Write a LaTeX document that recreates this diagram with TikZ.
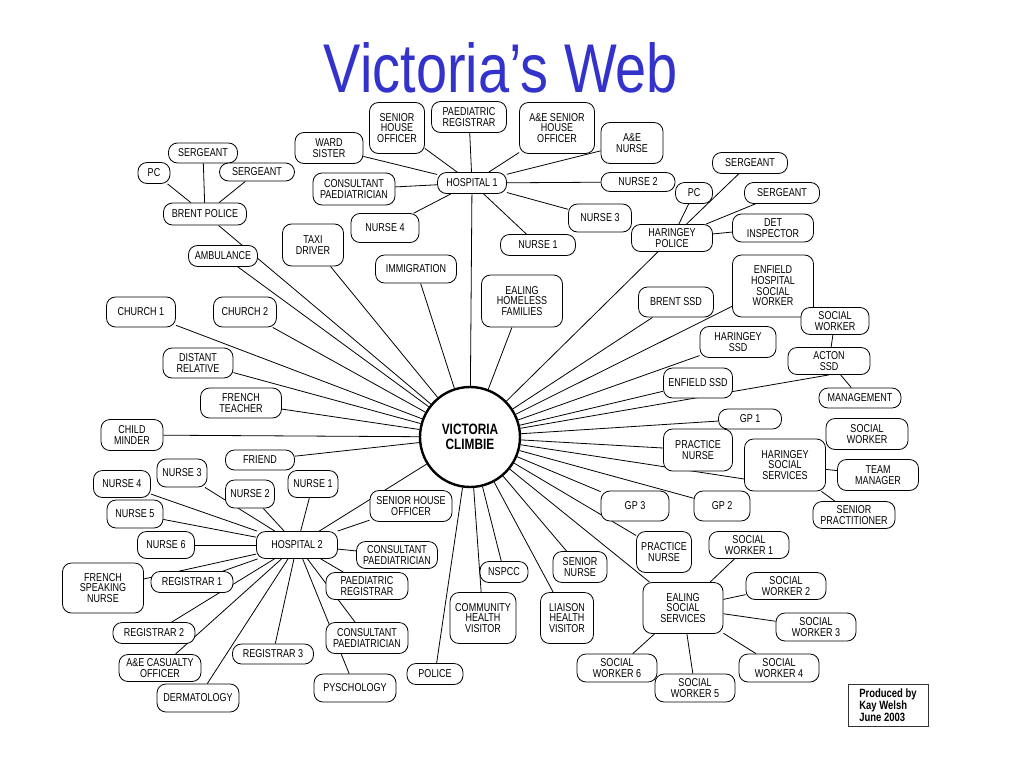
\documentclass[tikz,border=0pt]{standalone}
\usepackage{fontspec}
\setmainfont{Liberation Sans}[FakeStretch=0.79]
\newfontfamily\titlefont{Liberation Sans}[FakeStretch=0.81]
\definecolor{titleblue}{RGB}{51,51,204}
\pgfdeclarelayer{bg}
\pgfsetlayers{bg,main}

\begin{document}
\begin{tikzpicture}[x=1pt,y=-1pt,
    ent/.style={draw,fill=white,rounded corners=9pt,align=center,inner sep=1pt,line width=0.8pt,font=\fontsize{11.4}{10.7}\selectfont},
    sz/.style 2 args={minimum width=#1pt,minimum height=#2pt},
    hub/.style={draw,fill=white,circle,line width=2.4pt,minimum size=100pt,align=center,font=\bfseries\fontsize{15}{15}\selectfont},
    link/.style={line width=0.8pt}]

    \useasboundingbox (0,0) rectangle (1024,768);

    \node[font=\titlefont\fontsize{69}{69}\selectfont,text=titleblue,anchor=base,inner sep=0pt] (title) at (501,92) {Victoria’s Web};

    \node[hub] (vic) at (470,437) {VICTORIA\\CLIMBIE};

    % hospital 1
    \node[ent,sz={69}{21}] (h1) at (472,183) {HOSPITAL 1};
    \node[ent,sz={55}{51}] (sho1) at (397,128) {SENIOR\\HOUSE\\OFFICER};
    \node[ent,sz={75}{31}] (preg1) at (469,117) {PAEDIATRIC\\REGISTRAR};
    \node[ent,sz={75}{51}] (aesho) at (557,128) {A\&E SENIOR\\HOUSE\\OFFICER};
    \node[ent,sz={62}{41}] (aen) at (632,143) {A\&E\\NURSE};
    \node[ent,sz={68}{31}] (ward) at (329,148) {WARD\\SISTER};
    \node[ent,sz={82}{32}] (cons1) at (354,189) {CONSULTANT\\PAEDIATRICIAN};
    \node[ent,sz={74}{19}] (n2a) at (638,182) {NURSE 2};
    \node[ent,sz={63}{28}] (n3a) at (600,218) {NURSE 3};
    \node[ent,sz={68}{29}] (n4a) at (385,228) {NURSE 4};
    \node[ent,sz={75}{21}] (n1a) at (538,245) {NURSE 1};

    % police
    \node[ent,sz={83}{22}] (brent) at (205,214) {BRENT POLICE};
    \node[ent,sz={69}{20}] (serg1) at (203,153) {SERGEANT};
    \node[ent,sz={32}{21}] (pc1) at (154,173) {PC};
    \node[ent,sz={75}{18}] (serg2) at (257,172) {SERGEANT};
    \node[ent,sz={81}{27}] (hpol) at (672,238) {HARINGEY\\POLICE};
    \node[ent,sz={75}{21}] (serg3) at (750,163) {SERGEANT};
    \node[ent,sz={37}{21}] (pc2) at (694,193) {PC};
    \node[ent,sz={75}{21}] (serg4) at (782,193) {SERGEANT};
    \node[ent,sz={81}{28}] (det) at (773,228) {DET\\INSPECTOR};

    \node[ent,sz={61}{42}] (taxi) at (313,245) {TAXI\\DRIVER};
    \node[ent,sz={69}{21}] (amb) at (223,256) {AMBULANCE};
    \node[ent,sz={81}{28}] (immi) at (416,269) {IMMIGRATION};
    \node[ent,sz={81}{52}] (ehf) at (522,301) {EALING\\HOMELESS\\FAMILIES};
    \node[ent,sz={69}{30}] (church1) at (141,312) {CHURCH 1};
    \node[ent,sz={63}{30}] (church2) at (245,312) {CHURCH 2};
    \node[ent,sz={70}{30}] (distant) at (198,363) {DISTANT\\RELATIVE};
    \node[ent,sz={81}{30}] (french) at (241,403) {FRENCH\\TEACHER};
    \node[ent,sz={62}{31}] (child) at (132,435) {CHILD\\MINDER};
    \node[ent,sz={69}{20}] (friend) at (260,460) {FRIEND};

    % social services and gps
    \node[ent,sz={81}{62}] (ehsw) at (773,286) {ENFIELD\\HOSPITAL\\SOCIAL\\WORKER};
    \node[ent,sz={75}{30}] (brentssd) at (676,302) {BRENT SSD};
    \node[ent,sz={68}{27}] (sw0) at (835,321) {SOCIAL\\WORKER};
    \node[ent,sz={76}{31}] (hssd) at (738,342) {HARINGEY\\SSD};
    \node[ent,sz={82}{27}] (acton) at (829,361) {ACTON\\SSD};
    \node[ent,sz={69}{30}] (essd) at (698,383) {ENFIELD SSD};
    \node[ent,sz={82}{20}] (mgmt) at (860,398) {MANAGEMENT};
    \node[ent,sz={63}{20}] (gp1) at (750,419) {GP 1};
    \node[ent,sz={69}{42}] (pn1) at (698,450) {PRACTICE\\NURSE};
    \node[ent,sz={81}{52}] (hss) at (785,465) {HARINGEY\\SOCIAL\\SERVICES};
    \node[ent,sz={82}{31}] (sw7) at (867,434) {SOCIAL\\WORKER};
    \node[ent,sz={81}{31}] (team) at (878,475) {TEAM\\MANAGER};
    \node[ent,sz={82}{27}] (senp) at (854,515) {SENIOR\\PRACTITIONER};
    \node[ent,sz={68}{30}] (gp3) at (635,506) {GP 3};
    \node[ent,sz={56}{30}] (gp2) at (722,506) {GP 2};

    % hospital 2
    \node[ent,sz={81}{27}] (h2) at (297,545) {HOSPITAL 2};
    \node[ent,sz={50}{27}] (n1b) at (313,484) {NURSE 1};
    \node[ent,sz={49}{28}] (n2b) at (250,494) {NURSE 2};
    \node[ent,sz={50}{28}] (n3b) at (182,473) {NURSE 3};
    \node[ent,sz={57}{27}] (n4b) at (122,484) {NURSE 4};
    \node[ent,sz={56}{28}] (n5b) at (135,514) {NURSE 5};
    \node[ent,sz={57}{27}] (n6b) at (166,545) {NURSE 6};
    \node[ent,sz={82}{31}] (sho2) at (411,506) {SENIOR HOUSE\\OFFICER};
    \node[ent,sz={81}{27}] (cons2) at (397,555) {CONSULTANT\\PAEDIATRICIAN};
    \node[ent,sz={81}{50}] (fsn) at (103,588) {FRENCH\\SPEAKING\\NURSE};
    \node[ent,sz={82}{21}] (reg1) at (192,582) {REGISTRAR 1};
    \node[ent,sz={82}{27}] (preg2) at (367,586) {PAEDIATRIC\\REGISTRAR};
    \node[ent,sz={82}{21}] (reg2) at (154,633) {REGISTRAR 2};
    \node[ent,sz={82}{31}] (cons3) at (367,638) {CONSULTANT\\PAEDIATRICIAN};
    \node[ent,sz={81}{20}] (reg3) at (273,654) {REGISTRAR 3};
    \node[ent,sz={82}{27}] (aeco) at (160,668) {A\&E CASUALTY\\OFFICER};
    \node[ent,sz={82}{28}] (psych) at (355,688) {PYSCHOLOGY};
    \node[ent,sz={82}{28}] (derm) at (198,698) {DERMATOLOGY};
    \node[ent,sz={56}{21}] (police) at (435,674) {POLICE};

    % bottom
    \node[ent,sz={66}{51}] (chv) at (483,618) {COMMUNITY\\HEALTH\\VISITOR};
    \node[ent,sz={48}{21}] (nspcc) at (504,572) {NSPCC};
    \node[ent,sz={54}{31}] (snurse) at (580,567) {SENIOR\\NURSE};
    \node[ent,sz={53}{51}] (lhv) at (567,618) {LIAISON\\HEALTH\\VISITOR};
    \node[ent,sz={55}{41}] (pn2) at (664,552) {PRACTICE\\NURSE};
    \node[ent,sz={80}{51}] (ess) at (683,608) {EALING\\SOCIAL\\SERVICES};
    \node[ent,sz={80}{27}] (sw1) at (749,545) {SOCIAL\\WORKER 1};
    \node[ent,sz={80}{27}] (sw2) at (786,586) {SOCIAL\\WORKER 2};
    \node[ent,sz={80}{28}] (sw3) at (816,627) {SOCIAL\\WORKER 3};
    \node[ent,sz={80}{28}] (sw4) at (779,668) {SOCIAL\\WORKER 4};
    \node[ent,sz={80}{28}] (sw5) at (695,688) {SOCIAL\\WORKER 5};
    \node[ent,sz={80}{28}] (sw6) at (617,668) {SOCIAL\\WORKER 6};

    \node[draw=black!80,line width=0.8pt,minimum width=80pt,minimum height=42pt,align=left,inner sep=0pt,font=\bfseries\fontsize{12}{12}\selectfont] (credit) at (888,705) {Produced by\\Kay Welsh\\June 2003};

    \coordinate (hssin) at ([yshift=-14pt]hss.west);
    \coordinate (essin) at ([xshift=7pt]ess.north west);

    \begin{pgfonlayer}{bg}
    \fill[white] (0,0) rectangle (1024,768);

    \foreach \n in {brent,amb,taxi,immi,h1,ehf,hpol,brentssd,ehsw,hssd,essd,acton.south,gp1,pn1,hssin,gp2,gp3,pn2,essin,snurse,lhv,nspcc,chv,police,h2,friend,child,french,distant,church1,church2}{
        \path[link] (vic) edge (\n);
    }

    \foreach \n in {ward,sho1,preg1,aesho,aen,cons1,n2a,n3a,n4a,n1a}{
        \path[link] (h1) edge (\n);
    }

    \foreach \n in {n1b,n2b,n3b,n4b,n5b,n6b,fsn,reg1,reg2,aeco,derm,reg3,psych,cons3,preg2,cons2,sho2}{
        \path[link] (h2) edge (\n);
    }

    \foreach \n in {sw1,sw2,sw3,sw4,sw5,sw6}{
        \path[link] (ess) edge (\n);
    }

    \path[link]
        (brent) edge (pc1)
        (brent) edge (serg1)
        (brent) edge (serg2)
        (hpol) edge (pc2)
        (hpol) edge (serg3)
        (hpol) edge (serg4)
        (hpol) edge (det)
        (acton) edge (sw0)
        (acton) edge (mgmt)
        (hss) edge (sw7)
        (hss) edge (team)
        (hss) edge (senp)
    ;
    \end{pgfonlayer}

\end{tikzpicture}
\end{document}
